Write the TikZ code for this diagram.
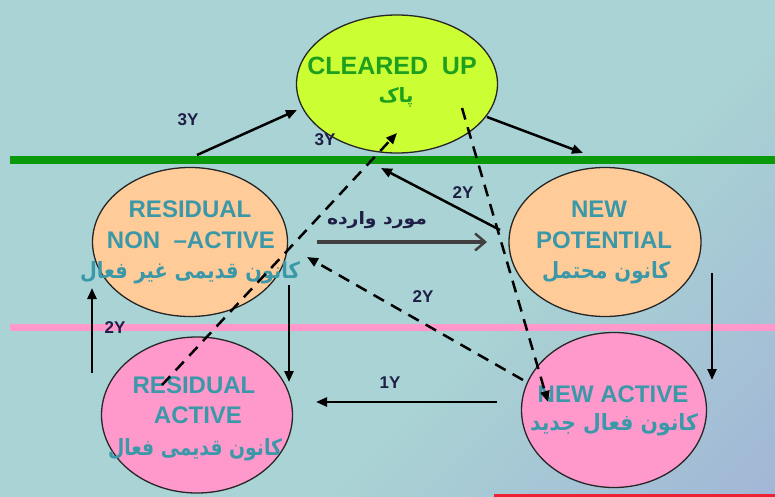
\documentclass[tikz,border=0pt]{standalone}
\usepackage{graphicx}
\usepackage{fontspec}
\setmainfont{Liberation Sans}
\newfontfamily\fafont[Script=Arabic]{DejaVu Sans}
\TeXXeTstate=1
\usetikzlibrary{shapes.geometric,arrows.meta}
\definecolor{bgA}{HTML}{A9D3D4}
\definecolor{bgB}{HTML}{9EA6D8}
\definecolor{yelf}{HTML}{CCFF33}
\definecolor{peachf}{HTML}{FFCC99}
\definecolor{pinkf}{HTML}{FF99CC}
\definecolor{txtc}{HTML}{3A98A8}
\definecolor{grntxt}{HTML}{1EA01E}
\definecolor{lineG}{HTML}{0A990A}
\definecolor{lineP}{HTML}{FF99CC}
\definecolor{lineR}{HTML}{EE2233}
\definecolor{labc}{HTML}{1E1E46}
\definecolor{grayarr}{HTML}{404040}
\pgfdeclarehorizontalshading{bgshade}{100bp}{color(0bp)=(bgA); color(60bp)=(bgA); color(100bp)=(bgB)}
\newcommand\fatext[3]{\resizebox{#1}{#2}{\fafont\bfseries #3}}
\begin{document}
\begin{tikzpicture}[x=1pt,y=-1pt,
  ell/.style={ellipse, draw=black!85, line width=1.3pt, inner sep=0pt, outer sep=0pt},
  en/.style={font=\bfseries\fontsize{24}{26}\selectfont, text=txtc, anchor=base, inner sep=0pt},
  lab/.style={font=\bfseries\fontsize{17}{19}\selectfont, text=labc, inner sep=0pt},
  arr/.style={line width=2.5pt, -{Triangle[length=11pt,width=9pt]}},
  darr/.style={arr, dash pattern=on 12pt off 8pt}]
\useasboundingbox (0,0) rectangle (775,497);
\shade[shading=bgshade, shading angle=-44] (0,0) rectangle (775,497);
% bands
\draw[lineG, line width=7pt] (10,160) -- (775,160);
\draw[lineP, line width=7pt] (10,327) -- (775,327);
\draw[lineR, line width=2.5pt] (494,495.5) -- (775,495.5);
% states
\node[ell, fill=yelf, minimum width=201pt, minimum height=138pt] (cu) at (397,84) {};
\node[ell, fill=peachf, minimum width=195pt, minimum height=149pt] (rna) at (190,242) {};
\node[ell, fill=peachf, minimum width=192pt, minimum height=149pt] (np) at (605,242) {};
\node[ell, fill=pinkf, minimum width=191pt, minimum height=156pt] (ra) at (197,415) {};
\node[ell, fill=pinkf, minimum width=185pt, minimum height=155pt] (na) at (614,410) {};
% texts
\node[en, text=grntxt, font=\bfseries\fontsize{25}{27}\selectfont] (cu1) at (392,75) {CLEARED\ \ UP};
\node[en, text=grntxt] (cu2) at (396,103) {\fatext{35pt}{15pt}{\beginR پاک\endR}};
\node[en] (rna1) at (190,217) {RESIDUAL};
\node[en] (rna2) at (191,248) {NON\ \ –ACTIVE};
\node[en] (rna3) at (190,278) {\fatext{220pt}{17pt}{\beginR کانون قدیمی غیر فعال\endR}};
\node[en] (np1) at (599,217) {NEW};
\node[en] (np2) at (604,248) {POTENTIAL};
\node[en] (np3) at (606,278) {\fatext{128pt}{17pt}{\beginR کانون محتمل\endR}};
\node[en] (ra1) at (194,393) {RESIDUAL};
\node[en] (ra2) at (198,423) {ACTIVE};
\node[en] (ra3) at (195,455) {\fatext{174pt}{17pt}{\beginR کانون قدیمی فعال\endR}};
\node[en] (na1) at (613,402) {NEW ACTIVE};
\node[en] (na2) at (614,430) {\fatext{168pt}{17pt}{\beginR کانون فعال جدید\endR}};
% labels
\node[lab] (l3a) at (188,120) {3Y};
\node[lab] (l3b) at (325,140) {3Y};
\node[lab] (l2a) at (463,193) {2Y};
\node[lab] (l2b) at (423,297) {2Y};
\node[lab] (l2c) at (115,328) {2Y};
\node[lab] (l1) at (390,383) {1Y};
\node[lab, anchor=base] (lfa) at (377,224) {\fatext{100pt}{13pt}{\beginR مورد وارده\endR}};
% connector ends
\coordinate (a1s) at (197,155); \coordinate (a1e) at (297,110);
\coordinate (a2s) at (487,117); \coordinate (a2e) at (583,153);
\coordinate (a3s) at (500,230); \coordinate (a3e) at (381,168);
\coordinate (a4s) at (317,242); \coordinate (a4e) at (487,242);
\coordinate (a5s) at (712,273); \coordinate (a5e) at (712,380);
\coordinate (a6s) at (497,402); \coordinate (a6e) at (316,402);
\coordinate (a7s) at (289,285); \coordinate (a7e) at (289,382);
\coordinate (a8s) at (92,373);  \coordinate (a8e) at (92,288);
\coordinate (d1s) at (162,385); \coordinate (d1e) at (397,133);
\coordinate (d2s) at (462,108); \coordinate (d2e) at (548,402);
\coordinate (d3s) at (523,380); \coordinate (d3e) at (307,257);
% connectors
\draw[arr] (a1s) -- (a1e);
\draw[arr] (a2s) -- (a2e);
\draw[arr] (a3s) -- (a3e);
\draw[grayarr, line width=4pt, -{Straight Barb[length=10pt,width=17pt,line width=2.5pt]}] (a4s) -- (a4e);
\draw[arr] (a5s) -- (a5e);
\draw[arr] (a6s) -- (a6e);
\draw[arr] (a7s) -- (a7e);
\draw[arr] (a8s) -- (a8e);
\draw[darr] (d1s) -- (d1e);
\draw[darr] (d2s) -- (d2e);
\draw[darr] (d3s) -- (d3e);
\end{tikzpicture}
\end{document}
